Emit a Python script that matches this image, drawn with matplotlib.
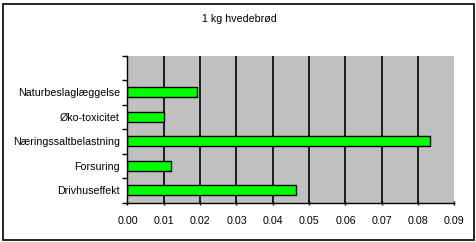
import matplotlib
matplotlib.use("Agg")
import matplotlib.pyplot as plt
from matplotlib.patches import Rectangle
import numpy as np

plt.rcParams['font.family'] = ['Liberation Sans', 'DejaVu Sans']

title = "1 kg hvedebrød"
categories = ["Drivhuseffekt", "Forsuring", "Næringssaltbelastning", "Øko-toxicitet", "Naturbeslaglæggelse", ""]
values = [0.0463, 0.0119, 0.0832, 0.0100, 0.0191, 0.0]
xticks = [0.00, 0.01, 0.02, 0.03, 0.04, 0.05, 0.06, 0.07, 0.08, 0.09]

W, H = 477, 242
fig = plt.figure(figsize=(W / 100, H / 100), dpi=100)
fig.patch.set_facecolor("white")

# outer border
fig.add_artist(Rectangle((3.5 / W, 1 - 239.5 / H), (474 - 3.5) / W, (239.5 - 3.5) / H,
                         transform=fig.transFigure, fill=False, edgecolor="black", linewidth=1.2))

ax = fig.add_axes([127.5 / W, 1 - 202.5 / H, (454.5 - 127.5) / W, (202.5 - 55.5) / H])
ax.set_facecolor("#c0c0c0")

n = len(categories)
ypos = np.arange(n)
mask = np.array([bool(c) for c in categories])
ax.barh(ypos[mask], np.array(values)[mask], height=0.42, color="#00ff00",
        edgecolor="black", linewidth=1.0, zorder=3)

ax.set_xlim(0, 0.09)
ax.set_ylim(-0.5, n - 0.5)
ax.set_xticks(xticks)
ax.set_xticklabels([f"{t:.2f}" for t in xticks], fontsize=7.7)
for t in xticks[1:-1]:
    ax.axvline(t, color="black", linewidth=1.2, zorder=1)

ax.set_yticks(ypos)
ax.set_yticklabels(categories, fontsize=7.7)
ax.tick_params(axis="y", length=0, pad=5.5)
ax.set_yticks(np.arange(-0.5, n, 1.0), minor=True)
ax.tick_params(axis="y", which="minor", length=3.5, width=1.0, direction="out")
ax.tick_params(axis="x", length=3.5, width=1.0, direction="inout", pad=8)

for s in ["top", "right"]:
    ax.spines[s].set_visible(False)
ax.spines["left"].set_linewidth(1.0)
ax.spines["bottom"].set_linewidth(1.0)
ax.spines["left"].set_zorder(4)

fig.text(239 / W, 1 - 19.5 / H, title, ha="center", va="center", fontsize=7.7)

fig.savefig("out.png", dpi=100, facecolor="white")
